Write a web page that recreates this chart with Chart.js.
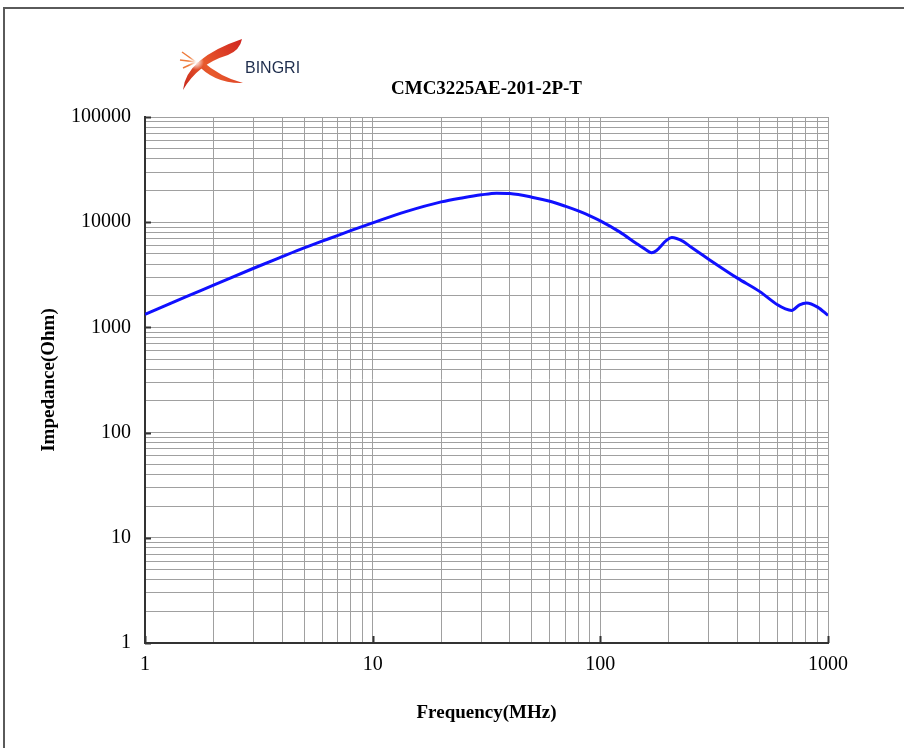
<!DOCTYPE html>
<html>
<head>
<meta charset="utf-8">
<script src="https://cdn.jsdelivr.net/npm/chart.js@4.4.0/dist/chart.umd.min.js"></script>
<style>
  html, body { margin: 0; padding: 0; background: #fff; }
  #wrap { width: 904px; height: 748px; }
</style>
</head>
<body>
<div id="wrap"><canvas id="impChart" width="904" height="748"></canvas></div>
<script>
// values
const freqMHz = [1, 1.5, 2, 3, 4, 5, 6, 7, 8, 10, 14, 20, 25, 30, 35, 40, 50, 60, 70, 80, 90, 100,
                 122, 144, 158, 168, 176, 195, 206, 231, 250, 300, 400, 500, 600, 650,
                 692, 750, 805, 900, 1000];
const impedanceOhm = [1330, 1940, 2520, 3650, 4700, 5700, 6600, 7450, 8300, 9850, 12600, 15600, 17100,
                      18200, 18850, 18700, 17300, 15800, 14200, 12800, 11500, 10300,
                      8050, 6280, 5510, 5120, 5350, 6710, 7160, 6570, 5800, 4430, 2940, 2200, 1640, 1500,
                      1450, 1640, 1710, 1560, 1300];

const xDecades = [1, 10, 100, 1000];
const yDecades = [1, 10, 100, 1000, 10000, 100000];
const minorSteps = [1, 2, 3, 4, 5, 6, 7, 8, 9];

const serif = '"Liberation Serif", "DejaVu Serif", serif';

function buildTicks(decades) {
    const out = [];
    decades.forEach(function (d, i) {
        if (i === decades.length - 1) { out.push(d); return; }
        minorSteps.forEach(function (s) { out.push(d * s); });
    });
    return out.map(function (v) { return { value: v }; });
}

function drawLogo(ctx) {
    ctx.save();
    const g = ctx.createLinearGradient(178, 90, 244, 40);
    g.addColorStop(0, '#c41f1a');
    g.addColorStop(0.45, '#e85a2c');
    g.addColorStop(1, '#cf2320');
    ctx.fillStyle = g;
    // big swoosh: lower-left up to top-right
    ctx.beginPath();
    ctx.moveTo(183, 90);
    ctx.quadraticCurveTo(186, 58, 242, 39);
    ctx.quadraticCurveTo(240, 50, 228, 55);
    ctx.quadraticCurveTo(198, 64, 183, 90);
    ctx.closePath();
    ctx.fill();
    // lower-right arm
    ctx.beginPath();
    ctx.moveTo(196, 63);
    ctx.quadraticCurveTo(214, 84, 243, 83);
    ctx.quadraticCurveTo(220, 77, 202, 61);
    ctx.closePath();
    ctx.fill();
    // thin rays to the left
    ctx.strokeStyle = '#ee7a3a';
    ctx.lineWidth = 1.5;
    [[182, 52], [180, 60], [183, 68]].forEach(function (p) {
        ctx.beginPath();
        ctx.moveTo(196, 62);
        ctx.lineTo(p[0], p[1]);
        ctx.stroke();
    });
    // white glow in the centre
    const w = ctx.createRadialGradient(196, 62, 0, 196, 62, 8);
    w.addColorStop(0, 'rgba(255,255,255,1)');
    w.addColorStop(1, 'rgba(255,255,255,0)');
    ctx.fillStyle = w;
    ctx.beginPath();
    ctx.arc(196, 62, 8, 0, Math.PI * 2);
    ctx.fill();
    ctx.fillStyle = '#1e2d4d';
    ctx.font = '16px "Liberation Sans", Arial, sans-serif';
    ctx.textBaseline = 'middle';
    ctx.fillText('BINGRI', 245, 69);
    ctx.restore();
}

const decorPlugin = {
    id: 'decor',
    beforeDraw: function (chart) {
        const ctx = chart.ctx;
        ctx.save();
        ctx.fillStyle = '#fff';
        ctx.fillRect(0, 0, chart.width, chart.height);
        ctx.restore();
    },
    afterDraw: function (chart) {
        const ctx = chart.ctx;
        const xs = chart.scales.x, ys = chart.scales.y;
        const area = chart.chartArea;
        ctx.save();
        // outer frame
        ctx.strokeStyle = '#5a5a5a';
        ctx.lineWidth = 2;
        ctx.strokeRect(4, 8, 1000, 1000);
        // small inward ticks at the decades
        ctx.strokeStyle = '#333';
        ctx.lineWidth = 2;
        yDecades.forEach(function (v) {
            const y = Math.round(ys.getPixelForValue(v)) + 0.5;
            ctx.beginPath();
            ctx.moveTo(area.left, y);
            ctx.lineTo(area.left + 6, y);
            ctx.stroke();
        });
        xDecades.forEach(function (v) {
            const x = Math.round(xs.getPixelForValue(v)) + 0.5;
            ctx.beginPath();
            ctx.moveTo(x, area.bottom);
            ctx.lineTo(x, area.bottom - 7);
            ctx.stroke();
        });
        ctx.restore();
        drawLogo(ctx);
    }
};

const points = freqMHz.map(function (f, i) { return { x: f, y: impedanceOhm[i] }; });

const ctx = document.getElementById('impChart').getContext('2d');
new Chart(ctx, {
    type: 'line',
    data: {
        datasets: [{
            data: points,
            borderColor: '#1010ff',
            borderWidth: 3,
            pointRadius: 0,
            fill: false,
            cubicInterpolationMode: 'monotone'
        }]
    },
    options: {
        responsive: false,
        animation: false,
        layout: { padding: { left: 0, right: 76, top: 0, bottom: 0 } },
        plugins: {
            legend: { display: false },
            tooltip: { enabled: false },
            title: {
                display: true,
                text: 'CMC3225AE-201-2P-T',
                fullSize: false,
                align: 'center',
                color: '#000',
                font: { family: serif, size: 19, weight: 'bold' },
                padding: { top: 78, bottom: 16.2 }
            }
        },
        scales: {
            x: {
                type: 'logarithmic',
                min: 1,
                max: 1000,
                afterBuildTicks: function (s) { s.ticks = buildTicks(xDecades); },
                afterFit: function (s) { s.height = 105; },
                ticks: {
                    autoSkip: false,
                    maxRotation: 0,
                    padding: 10,
                    color: '#000',
                    font: { family: serif, size: 20 },
                    callback: function (v) { return xDecades.includes(v) ? String(v) : ''; }
                },
                grid: { color: '#a0a0a0', lineWidth: 1, drawTicks: false },
                border: { color: '#333', width: 2 },
                title: {
                    display: true,
                    text: 'Frequency(MHz)',
                    color: '#000',
                    font: { family: serif, size: 19, weight: 'bold' },
                    padding: { top: 0, bottom: 24 }
                }
            },
            y: {
                type: 'logarithmic',
                min: 1,
                max: 100000,
                afterBuildTicks: function (s) { s.ticks = buildTicks(yDecades); },
                afterFit: function (s) { s.width = 145; },
                ticks: {
                    autoSkip: false,
                    padding: 14,
                    color: '#000',
                    font: { family: serif, size: 20 },
                    callback: function (v) { return yDecades.includes(v) ? String(v) : ''; }
                },
                grid: { color: '#a0a0a0', lineWidth: 1, drawTicks: false },
                border: { color: '#333', width: 2 },
                title: {
                    display: true,
                    text: 'Impedance(Ohm)',
                    color: '#000',
                    font: { family: serif, size: 19, weight: 'bold' },
                    padding: { top: 38, bottom: 0 }
                }
            }
        }
    },
    plugins: [decorPlugin]
});
</script>
</body>
</html>
